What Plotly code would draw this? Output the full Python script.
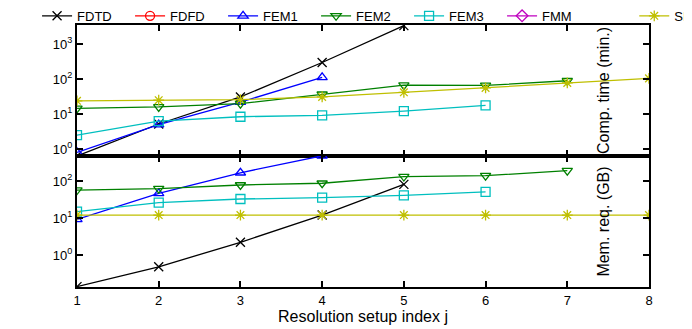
import plotly.graph_objects as go
from plotly.subplots import make_subplots

methods = ["FDTD", "FDFD", "FEM1", "FEM2", "FEM3", "FMM", "SIE"]
colors = {"FDTD": "#000000", "FDFD": "#ff0000", "FEM1": "#0000ff", "FEM2": "#008000",
          "FEM3": "#00bfbf", "FMM": "#bf00bf", "SIE": "#bfbf00"}
symbols = {"FDTD": "x-thin-open", "FDFD": "circle-open", "FEM1": "triangle-up-open",
           "FEM2": "triangle-down-open", "FEM3": "square-open", "FMM": "diamond-open",
           "SIE": "asterisk-open"}

# Computation time (min.)
time_x = {
    "FDTD": [1, 2, 3, 4, 5],
    "FDFD": [],
    "FEM1": [1, 2, 3, 4],
    "FEM2": [1, 2, 3, 4, 5, 6, 7],
    "FEM3": [1, 2, 3, 4, 5, 6],
    "FMM": [],
    "SIE": [1, 2, 3, 4, 5, 6, 7, 8],
}
time_y = {
    "FDTD": [0.63, 5.2, 31, 300, 3400],
    "FDFD": [],
    "FEM1": [0.8, 5.0, 22, 112],
    "FEM2": [14.5, 16, 20, 37, 67, 66, 90],
    "FEM3": [2.5, 6.3, 8.4, 9.2, 12.2, 17.7],
    "FMM": [],
    "SIE": [24, 25, 26, 31, 42, 56, 78, 105],
}

# Memory requirement (GB)
mem_x = {
    "FDTD": [1, 2, 3, 4, 5],
    "FDFD": [],
    "FEM1": [1, 2, 3, 4],
    "FEM2": [1, 2, 3, 4, 5, 6, 7],
    "FEM3": [1, 2, 3, 4, 5, 6],
    "FMM": [],
    "SIE": [1, 2, 3, 4, 5, 6, 7, 8],
}
mem_y = {
    "FDTD": [0.14, 0.48, 2.2, 12, 81],
    "FDFD": [],
    "FEM1": [9.2, 46.5, 167, 480],
    "FEM2": [57, 62, 78, 87, 132, 139, 190],
    "FEM3": [14.8, 26, 32.6, 35.5, 41, 51],
    "FMM": [],
    "SIE": [12, 12, 12, 12, 12, 12, 12, 12],
}

x_ticks = [1, 2, 3, 4, 5, 6, 7, 8]
top_tickvals = [1, 10, 100, 1000]
top_ticktext = ["10<sup>0</sup>", "10<sup>1</sup>", "10<sup>2</sup>", "10<sup>3</sup>"]
bot_tickvals = [1, 10, 100]
bot_ticktext = ["10<sup>0</sup>", "10<sup>1</sup>", "10<sup>2</sup>"]

fig = make_subplots(rows=2, cols=1, shared_xaxes=True, vertical_spacing=0)

for m in methods:
    lg = "legend2" if m == "SIE" else "legend"
    fig.add_trace(go.Scatter(
        x=time_x[m] if time_x[m] else [None], y=time_y[m] if time_y[m] else [None],
        mode="lines+markers", name=m, legendgroup=m, legend=lg,
        line=dict(color=colors[m], width=1.3),
        marker=dict(symbol=symbols[m], size=9, color=colors[m], line=dict(width=1.3, color=colors[m])),
    ), row=1, col=1)
    fig.add_trace(go.Scatter(
        x=mem_x[m] if mem_x[m] else [None], y=mem_y[m] if mem_y[m] else [None],
        mode="lines+markers", name=m, legendgroup=m, showlegend=False, legend=lg,
        line=dict(color=colors[m], width=1.3),
        marker=dict(symbol=symbols[m], size=9, color=colors[m], line=dict(width=1.3, color=colors[m])),
    ), row=2, col=1)

font = dict(family="Liberation Sans, Arial, sans-serif", size=13, color="#000000")
axis_common = dict(showline=True, linecolor="#000000", linewidth=2, mirror="ticks",
                   ticks="inside", tickcolor="#000000", tickwidth=2, ticklen=6,
                   showgrid=False, zeroline=False)

fig.update_xaxes(range=[1, 8], tickvals=x_ticks, **axis_common)
fig.update_xaxes(showticklabels=False, row=1, col=1)
fig.update_xaxes(title=dict(text="Resolution setup index j", standoff=0), row=2, col=1)
fig.update_yaxes(type="log", range=[-0.2, 3.55], tickvals=top_tickvals, ticktext=top_ticktext,
                 title=dict(text="Comp. time (min.)", standoff=6), row=1, col=1, **axis_common)
fig.update_yaxes(type="log", range=[-0.865, 2.676], tickvals=bot_tickvals, ticktext=bot_ticktext,
                 title=dict(text="Mem. req. (GB)", standoff=6), row=2, col=1, **axis_common)

legend_common = dict(orientation="h", xref="container", yref="paper", y=1.035,
                     xanchor="left", yanchor="middle", entrywidth=48, entrywidthmode="pixels",
                     font=dict(size=13), bgcolor="rgba(0,0,0,0)", itemwidth=30,
                     tracegroupgap=0)

fig.update_layout(
    width=692, height=329,
    margin=dict(l=69, r=51, t=17, b=50, autoexpand=False),
    paper_bgcolor="white", plot_bgcolor="white",
    font=font,
    legend=dict(x=0.042, **legend_common),
    legend2=dict(x=0.905, **legend_common),
)

fig.write_html("out.html")
